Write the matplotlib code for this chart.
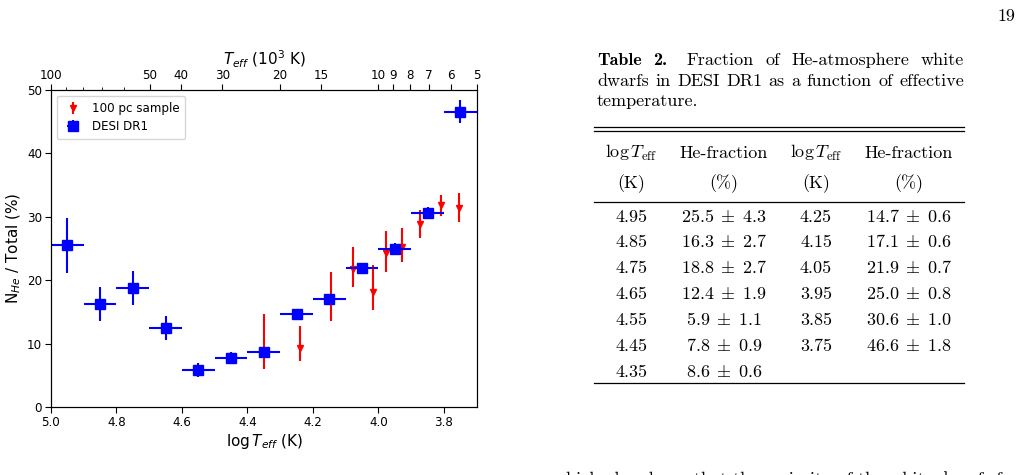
import numpy as np
import matplotlib
matplotlib.use("Agg")
import matplotlib.pyplot as plt
from matplotlib.ticker import NullFormatter, FixedLocator

# ---------------- data ----------------
# DESI DR1 (blue squares), from Table 2
desi_logt = [4.95, 4.85, 4.75, 4.65, 4.55, 4.45, 4.35, 4.25, 4.15, 4.05, 3.95, 3.85, 3.75]
desi_frac = [25.5, 16.3, 18.8, 12.4, 5.9, 7.8, 8.6, 14.7, 17.1, 21.9, 25.0, 30.6, 46.6]
desi_err = [4.3, 2.7, 2.7, 1.9, 1.1, 0.9, 0.6, 0.6, 0.6, 0.7, 0.8, 1.0, 1.8]
desi_bin_half = [0.05] * 13

# 100 pc sample (red triangles)
pc_logt = [4.350, 4.241, 4.144, 4.077, 4.018, 3.976, 3.927, 3.872, 3.808, 3.755]
pc_frac = [8.8, 9.3, 17.2, 21.8, 18.2, 24.3, 25.3, 28.8, 31.8, 31.4]
pc_lower = [6.0, 7.3, 13.5, 18.9, 15.3, 21.3, 22.8, 26.7, 30.2, 29.2]
pc_upper = [14.7, 12.7, 21.3, 25.3, 22.4, 27.7, 28.3, 31.0, 33.5, 33.8]

top_major = [100, 50, 40, 30, 20, 15, 10, 9, 8, 7, 6, 5]
top_minor = [90, 80, 70, 60]

# table content
tab_col1 = ["4.95", "4.85", "4.75", "4.65", "4.55", "4.45", "4.35"]
tab_col2 = ["25.5 \\pm 4.3", "16.3 \\pm 2.7", "18.8 \\pm 2.7", "12.4 \\pm 1.9",
            "5.9 \\pm 1.1", "7.8 \\pm 0.9", "8.6 \\pm 0.6"]
tab_col3 = ["4.25", "4.15", "4.05", "3.95", "3.85", "3.75"]
tab_col4 = ["14.7 \\pm 0.6", "17.1 \\pm 0.6", "21.9 \\pm 0.7", "25.0 \\pm 0.8",
            "30.6 \\pm 1.0", "46.6 \\pm 1.8"]

W, H = 1026, 475
fig = plt.figure(figsize=(W / 100, H / 100), dpi=100)

def fx(x):
    return x / W

def fy(y):
    return 1 - y / H

# ---------------- chart ----------------
ax = fig.add_axes([fx(51), fy(407), (477 - 51) / W, (407 - 90) / H])

pc_err = [np.array(pc_frac) - np.array(pc_lower), np.array(pc_upper) - np.array(pc_frac)]
ax.errorbar(pc_logt, pc_frac, yerr=pc_err, fmt='v', color='red', ms=4.5,
            elinewidth=1.5, capsize=0, label='100 pc sample', zorder=2)
ax.errorbar(desi_logt, desi_frac, xerr=desi_bin_half, yerr=desi_err, fmt='s',
            color='blue', ms=6.5, elinewidth=1.5, capsize=0, label='DESI DR1', zorder=3)

ax.set_xlim(5.0, np.log10(5000))
ax.set_ylim(0, 50)
ax.set_xticks([5.0, 4.8, 4.6, 4.4, 4.2, 4.0, 3.8])
ax.set_yticks([0, 10, 20, 30, 40, 50])
ax.tick_params(labelsize=8.6, length=4, width=0.8, pad=2.5)
ax.set_xlabel(r"$\log T_{eff}$ (K)", fontsize=11, labelpad=2)
ax.set_ylabel(r"N$_{He}$ / Total (%)", fontsize=11, labelpad=3)
for s in ax.spines.values():
    s.set_linewidth(0.8)

leg = ax.legend(loc='upper left', fontsize=8.6, handlelength=1.6,
                borderpad=0.5, labelspacing=0.45, framealpha=0.8)

ax2 = ax.twiny()
ax2.set_xscale('log')
ax2.set_xlim(100, 5)
ax2.xaxis.set_major_locator(FixedLocator(top_major))
ax2.set_xticklabels([str(v) for v in top_major])
ax2.xaxis.set_minor_locator(FixedLocator(top_minor))
ax2.xaxis.set_minor_formatter(NullFormatter())
ax2.tick_params(labelsize=8.6, length=4, width=0.8, pad=1.5)
ax2.tick_params(which='minor', length=2, width=0.6)
ax2.set_xlabel(r"$T_{eff}$ (10$^3$ K)", fontsize=11, labelpad=3)

# ---------------- table + page text ----------------
FS = 13.0
renderer = fig.canvas.get_renderer()

def justify(tokens, x0, x1, ybase, extra=None):
    """tokens: list of (text, family). Place words so line spans x0..x1."""
    extra = extra or {}
    objs = []
    widths = []
    for t, fam in tokens:
        o = fig.text(0, 0, t, family=fam, fontsize=FS, va='baseline', ha='left')
        bb = o.get_window_extent(renderer)
        widths.append(bb.width)
        objs.append(o)
    n = len(objs)
    gap = (x1 - x0 - sum(widths) - sum(extra.values())) / max(n - 1, 1)
    x = x0
    for i, (o, w) in enumerate(zip(objs, widths)):
        o.set_position((fx(x), fy(ybase)))
        x += w + gap + extra.get(i, 0)

line1 = [("Table", "cmb10"), ("2.", "cmb10")] + [(w, "cmr10") for w in "Fraction of He-atmosphere white".split()]
justify(line1, 597, 964, 65, extra={1: 8})
line2 = [(w, "cmr10") for w in "dwarfs in DESI DR1 as a function of effective".split()]
justify(line2, 597, 964, 86)
fig.text(fx(597), fy(106), "temperature.", family="cmr10", fontsize=FS, va='baseline')

# rules
def hrule(y, lw=0.9):
    fig.add_artist(plt.Line2D([fx(594), fx(964)], [fy(y), fy(y)], color='black',
                              lw=lw, transform=fig.transFigure))

hrule(127.3)
hrule(130.7)
hrule(202.3)
hrule(383.3)

cx = [631, 724, 816, 909]
for c in (0, 2):
    fig.text(fx(cx[c]), fy(158), r"$\log T_{\rm eff}$", fontsize=FS, math_fontfamily='cm',
             ha='center', va='baseline')
    fig.text(fx(cx[c]), fy(188), "(K)", family="cmr10", fontsize=FS, ha='center', va='baseline')
for c in (1, 3):
    fig.text(fx(cx[c]), fy(158), "He-fraction", family="cmr10", fontsize=FS, ha='center', va='baseline')
    fig.text(fx(cx[c]), fy(188), "(%)", family="cmr10", fontsize=FS, ha='center', va='baseline')

row_base = [221.7, 247.5, 273.3, 299.2, 325.0, 350.8, 376.7]
for i, v in enumerate(tab_col1):
    fig.text(fx(cx[0]), fy(row_base[i]), v, family="cmr10", fontsize=FS, ha='center', va='baseline')
for i, v in enumerate(tab_col2):
    fig.text(fx(cx[1]), fy(row_base[i]), "$" + v.replace("\\pm", "\\;\\pm\\;") + "$",
             fontsize=FS, math_fontfamily='cm', ha='center', va='baseline')
for i, v in enumerate(tab_col3):
    fig.text(fx(cx[2]), fy(row_base[i]), v, family="cmr10", fontsize=FS, ha='center', va='baseline')
for i, v in enumerate(tab_col4):
    fig.text(fx(cx[3]), fy(row_base[i]), "$" + v.replace("\\pm", "\\;\\pm\\;") + "$",
             fontsize=FS, math_fontfamily='cm', ha='center', va='baseline')

# page number
fig.text(fx(1015), fy(21), "19", family="cmr10", fontsize=FS, ha='right', va='baseline')

# running text cut off at the bottom of the page image
fig.text(fx(553), fy(484), "which also shows that the majority of the white dwarfs found",
         family="cmr10", fontsize=FS, ha='left', va='baseline')

fig.savefig("out.png", dpi=100)
